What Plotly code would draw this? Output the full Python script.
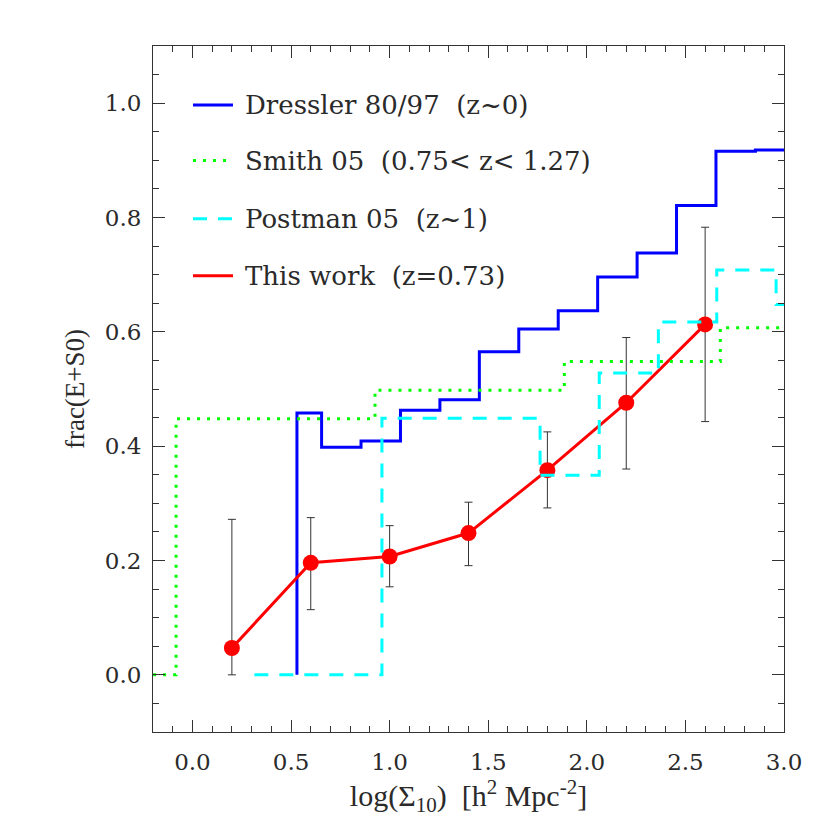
import plotly.graph_objects as go

# ---- data ----
dressler_edges = [0.53, 0.655, 0.855, 1.055, 1.255, 1.455, 1.655, 1.855, 2.055, 2.255, 2.455, 2.655, 2.855, 3.05]
dressler_frac = [0.458, 0.398, 0.409, 0.463, 0.481, 0.565, 0.605, 0.637, 0.696, 0.738, 0.821, 0.916, 0.918]

smith_edges = [-0.25, -0.083, 0.926, 1.886, 2.677, 3.05]
smith_frac = [0.0, 0.448, 0.498, 0.548, 0.607]

postman_edges = [0.314, 0.961, 1.763, 2.063, 2.363, 2.659, 2.96, 3.05]
postman_frac = [0.0, 0.449, 0.349, 0.528, 0.617, 0.708, 0.648]

this_x = [0.2, 0.6, 1.0, 1.4, 1.8, 2.2, 2.6]
this_frac = [0.047, 0.196, 0.207, 0.248, 0.358, 0.476, 0.613]
this_hi = [0.272, 0.275, 0.261, 0.302, 0.425, 0.590, 0.783]
this_lo = [0.0, 0.114, 0.154, 0.191, 0.292, 0.360, 0.443]

NB = "\u00a0"
legend_labels = [
    "Dressler 80/97" + NB * 2 + "(z~0)",
    "Smith 05" + NB * 2 + "(0.75< z< 1.27)",
    "Postman 05" + NB * 2 + "(z~1)",
    "This work" + NB * 2 + "(z=0.73)",
]

BLUE = "#0000ff"
GREEN = "#00ff00"
CYAN = "#00ffff"
RED = "#ff0000"
TEXT = "#2a2a2a"


def step_xy(edges, vals, drop_from_zero):
    xs = list(edges)
    ys = list(vals) + [vals[-1]]
    if drop_from_zero:
        xs = [edges[0]] + xs
        ys = [0.0] + ys
    return xs, ys


fig = go.Figure()

dx, dy = step_xy(dressler_edges, dressler_frac, True)
fig.add_trace(go.Scatter(x=dx, y=dy, mode="lines", line=dict(color=BLUE, width=3, shape="hv"),
                         showlegend=False, hoverinfo="skip"))

err_plus = [h - v for h, v in zip(this_hi, this_frac)]
err_minus = [v - l for v, l in zip(this_frac, this_lo)]
fig.add_trace(go.Scatter(x=this_x, y=this_frac, mode="lines+markers",
                         line=dict(color=RED, width=3),
                         marker=dict(color=RED, size=16),
                         error_y=dict(type="data", symmetric=False, array=err_plus, arrayminus=err_minus,
                                      color="#333333", thickness=1, width=4),
                         showlegend=False))

sx, sy = step_xy(smith_edges, smith_frac, False)
fig.add_trace(go.Scatter(x=sx, y=sy, mode="lines",
                         line=dict(color=GREEN, width=3, shape="hv", dash="3px,7px"),
                         showlegend=False, hoverinfo="skip"))

px_, py_ = step_xy(postman_edges, postman_frac, False)
fig.add_trace(go.Scatter(x=px_, y=py_, mode="lines",
                         line=dict(color=CYAN, width=3, shape="hv", dash="14px,11px"),
                         showlegend=False, hoverinfo="skip"))

# ---- custom legend ----
leg_colors = [BLUE, GREEN, CYAN, RED]
leg_dash = ["solid", "3px,7px", "14px,11px", "solid"]
leg_y = [0.914, 0.833, 0.748, 0.665]
for lab, c, d, yy in zip(legend_labels, leg_colors, leg_dash, leg_y):
    fig.add_shape(type="line", xref="paper", yref="paper", x0=0.0634, x1=0.1268, y0=yy, y1=yy,
                  line=dict(color=c, width=3, dash=d))
    fig.add_annotation(x=0.1426, y=yy, xref="paper", yref="paper", text=lab, showarrow=False,
                       xanchor="left", yanchor="middle",
                       font=dict(family="DejaVu Serif", size=26, color=TEXT))

axis_common = dict(showgrid=False, zeroline=False, showline=True, linecolor="#333333", linewidth=1,
                   mirror="ticks", ticks="inside", ticklen=12, tickcolor="#333333", tickwidth=1,
                   tickfont=dict(family="DejaVu Serif", size=23, color=TEXT))

fig.update_xaxes(range=[-0.2, 3.0], tick0=0, dtick=0.5, tickformat=".1f",
                 minor=dict(dtick=0.1, tick0=0, ticklen=6, ticks="inside", tickcolor="#333333"),
                 ticklabelstandoff=9,
                 title=dict(text="log(Σ<sub>10</sub>)" + NB * 2 + "[h<sup>2</sup> Mpc<sup>-2</sup>]",
                            font=dict(family="Liberation Serif", size=30, color=TEXT), standoff=3),
                 **axis_common)
fig.update_yaxes(range=[-0.1, 1.1], tick0=0, dtick=0.2, tickformat=".1f",
                 minor=dict(dtick=0.05, tick0=0, ticklen=6, ticks="inside", tickcolor="#333333"),
                 ticklabelstandoff=6,
                 title=dict(text="frac(E+S0)",
                            font=dict(family="Liberation Serif", size=27, color=TEXT), standoff=12),
                 **axis_common)

fig.update_layout(width=830, height=830, margin=dict(l=145, r=54, t=38, b=106),
                  plot_bgcolor="white", paper_bgcolor="white", showlegend=False)

fig.write_html("out.html")
